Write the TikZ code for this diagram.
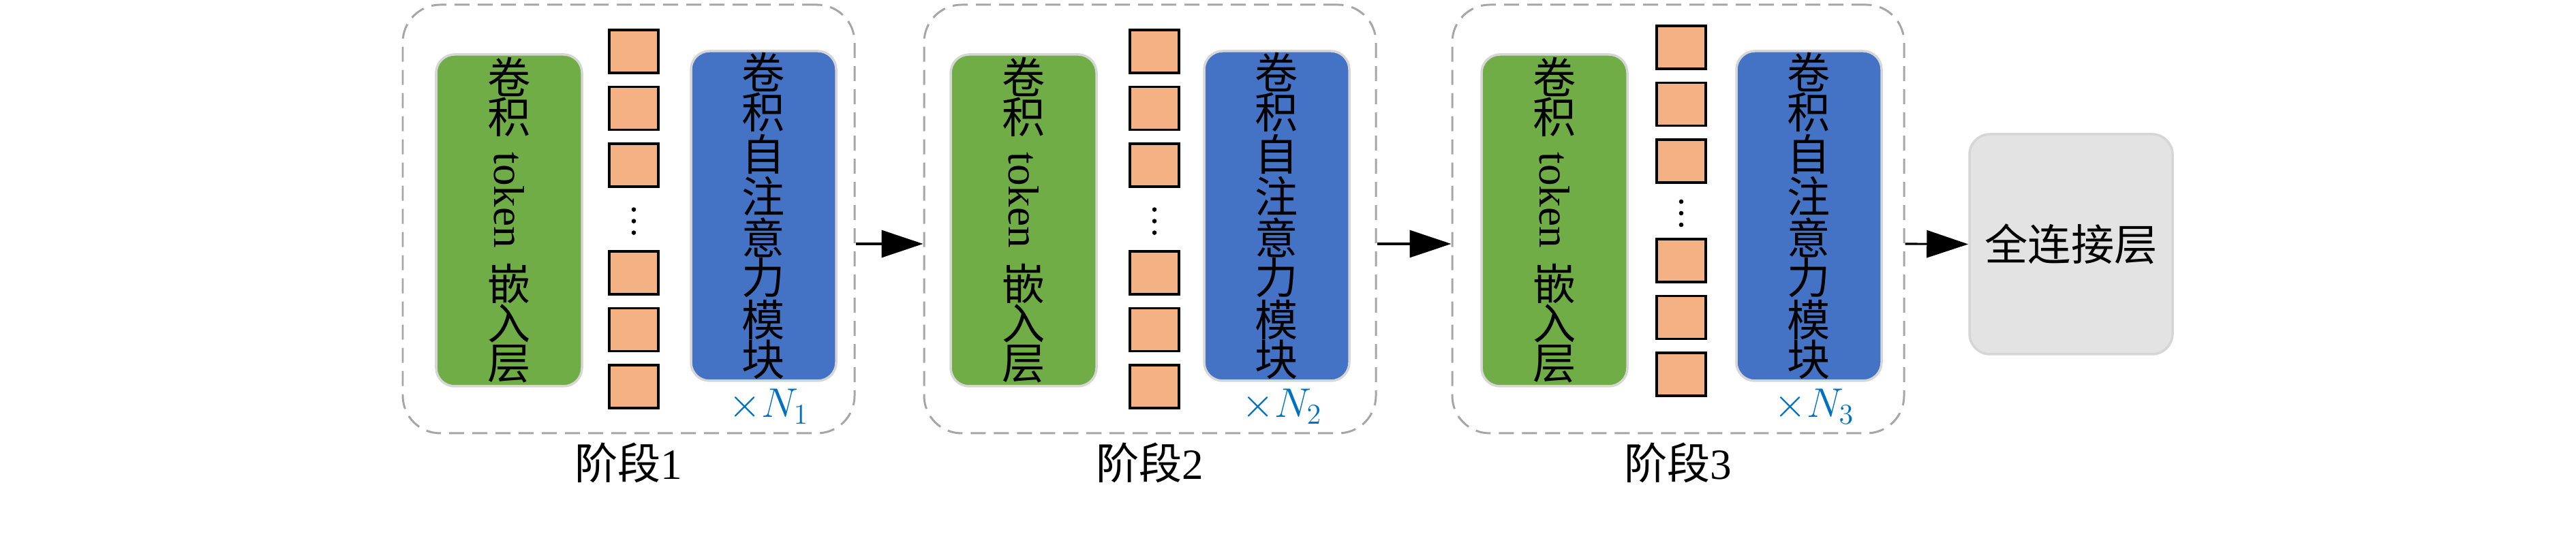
\documentclass[tikz,border=0pt]{standalone}
\usepackage{fontspec}
\setmainfont{Liberation Serif}
\newfontfamily\cjk{Noto Sans CJK SC}
\usepackage{graphicx}
\usetikzlibrary{positioning,arrows.meta}
\definecolor{embedgreen}{HTML}{70AD47}
\definecolor{attnblue}{HTML}{4472C4}
\definecolor{tokenorange}{HTML}{F4B183}
\definecolor{repblue}{HTML}{0070C0}
\definecolor{edgegray}{HTML}{D6D6D6}
\definecolor{fcgray}{HTML}{E3E3E3}
\definecolor{dashgray}{HTML}{A6A6A6}

\begin{document}
\begin{tikzpicture}[font=\fontsize{18}{16.5}\selectfont]
  % Define styles
  \tikzset{
    stagebox/.style={rectangle, rounded corners=0.55cm, draw=dashgray, line width=0.85pt,
                     dash pattern=on 0.22cm off 0.12cm, minimum width=6.63cm, minimum height=6.29cm},
    embedbox/.style={rectangle, rounded corners=0.27cm, draw=edgegray, line width=1pt, fill=embedgreen,
                     minimum width=2.14cm, minimum height=4.87cm, inner sep=0pt, align=center,
                     font=\cjk\fontsize{18}{16.5}\selectfont},
    attnbox/.style={embedbox, fill=attnblue, minimum width=2.13cm, minimum height=4.84cm},
    tokenbox/.style={rectangle, draw=black, line width=1pt, fill=tokenorange,
                     minimum width=0.72cm, minimum height=0.63cm, inner sep=0pt},
    fcbox/.style={rectangle, rounded corners=0.3cm, draw=edgegray, line width=1pt, fill=fcgray,
                  minimum width=2.98cm, minimum height=3.23cm, font=\cjk\fontsize{18}{16.5}\selectfont},
    replabel/.style={text=repblue, inner sep=0pt},
    arrow/.style={line width=0.9pt, -{Triangle[length=0.61cm, width=0.4cm]}}
  }
  \useasboundingbox (0,0) rectangle (37.8,8.03);

  % Stages
  \foreach \s/\xd/\xg/\xq/\xb/\tq/\bq/\dy in {1/5.91/6.40/8.94/10.14/7.275/4.025/4.954,
                                              2/13.56/13.95/16.58/17.67/7.275/4.025/4.954,
                                              3/21.31/21.74/24.31/25.48/7.335/4.205/5.07}{
    \node[stagebox] (stage\s) at ({\xd+3.315},4.815) {};
    \node[embedbox] (embed\s) at ({\xg+1.07},4.795)
      {卷\\积\\[-0.3cm]\rotatebox{-90}{\rmfamily token}\\[0.2cm]嵌\\入\\层};
    \node[attnbox] (attn\s) at ({\xb+1.065},4.86) {卷\\积\\自\\注\\意\\力\\模\\块};
    \foreach \k in {0,1,2}{
      \node[tokenbox] (top\s\k) at ({\xq+0.36},{\tq-0.835*\k}) {};
      \node[tokenbox] (bot\s\k) at ({\xq+0.36},{\bq-0.835*\k}) {};
      \fill ({\xq+0.36},{\dy-0.17*\k}) circle (0.033);
    }
    \node[replabel, below=0.1cm of attn\s, xshift=0.08cm] (rep\s) {$\times N_{\s}$};
    \node[below=0.12cm of stage\s, inner sep=0pt] (label\s) {{\cjk 阶段}\s};
  }

  % Output layer
  \node[fcbox] (fc) at (30.39,4.445) {全连接层};

  % Arrows
  \coordinate (flow) at (0,4.45);
  \draw[arrow] (stage1.east |- flow) -- (stage2.west |- flow);
  \draw[arrow] (stage2.east |- flow) -- (stage3.west |- flow);
  \draw[arrow] (stage3.east |- flow) -- (fc.west);
\end{tikzpicture}
\end{document}
